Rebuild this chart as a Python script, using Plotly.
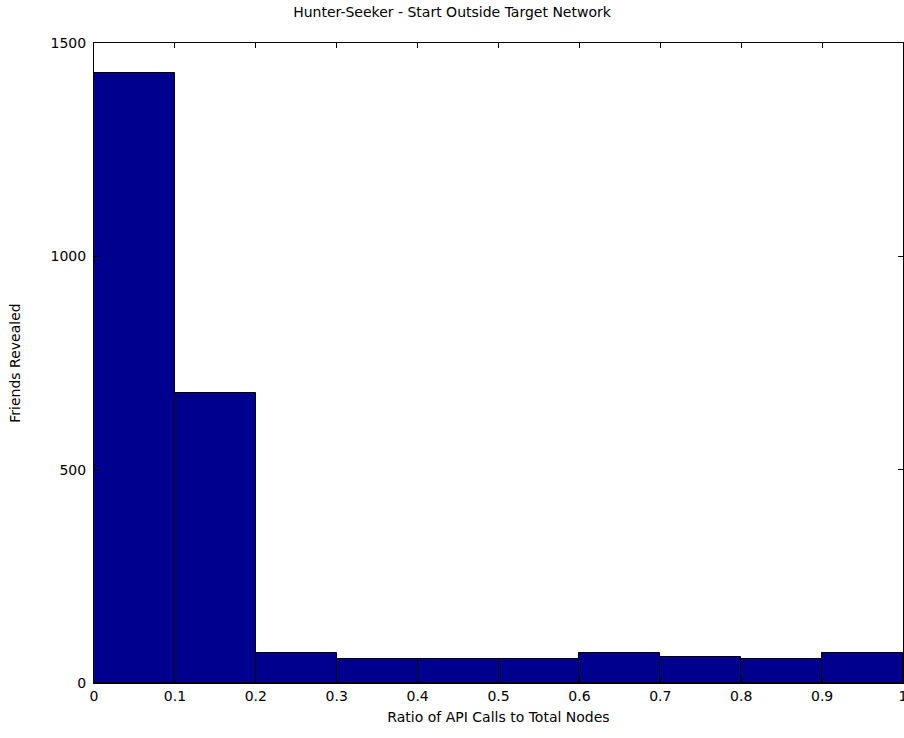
import plotly.graph_objects as go

bin_edges = [0.0, 0.1, 0.2, 0.3, 0.4, 0.5, 0.6, 0.7, 0.8, 0.9, 1.0]
friends_revealed = [1430, 680, 70, 57, 57, 57, 70, 62, 57, 70]
x_ticks = [0, 0.1, 0.2, 0.3, 0.4, 0.5, 0.6, 0.7, 0.8, 0.9, 1]
y_ticks = [0, 500, 1000, 1500]

centers = [(a + b) / 2 for a, b in zip(bin_edges[:-1], bin_edges[1:])]
widths = [b - a for a, b in zip(bin_edges[:-1], bin_edges[1:])]

font = dict(family="DejaVu Sans, Liberation Sans, sans-serif", size=14, color="black")

fig = go.Figure(go.Bar(
    x=centers, y=friends_revealed, width=widths,
    marker=dict(color="#00008F", line=dict(color="black", width=1)),
))

fig.update_layout(
    width=904, height=738,
    margin=dict(l=94, r=1, t=43, b=55, autoexpand=False),
    paper_bgcolor="white", plot_bgcolor="white",
    font=font,
    showlegend=False,
    bargap=0,
    title=dict(text="Hunter-Seeker - Start Outside Target Network", x=0.5, xanchor="center",
               y=1 - 12 / 738, yanchor="middle", font=font),
)
fig.update_xaxes(
    range=[0, 1], tickvals=x_ticks, ticks="inside", ticklen=5, tickcolor="black",
    ticklabeloverflow="allow", automargin=False,
    showline=True, linecolor="black", linewidth=1, mirror="ticks", showgrid=False, zeroline=False,
    title=dict(text="Ratio of API Calls to Total Nodes", standoff=9, font=font),
)
fig.update_yaxes(
    range=[0, 1500], tickvals=y_ticks, ticks="inside", ticklen=5, tickcolor="black",
    ticklabelstandoff=4, automargin=False,
    showline=True, linecolor="black", linewidth=1, mirror="ticks", showgrid=False, zeroline=False,
    title=dict(text="Friends Revealed", standoff=26, font=font),
)

fig.write_html("out.html")
